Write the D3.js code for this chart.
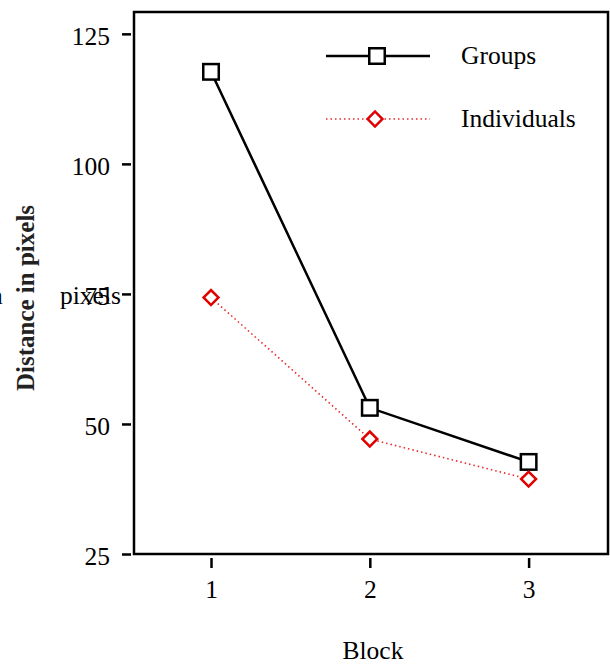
<!DOCTYPE html>
<html>
  <head>
    <meta charset="utf-8">
    <script src="https://d3js.org/d3.v7.min.js"></script>
    <style>
      body { margin: 0; background: #fff; }
      text { font-family: "Liberation Serif", "DejaVu Serif", serif; }
    </style>
  </head>
  <body>
    <div id="my_dataviz"></div>
  </body>

  <script>
    // data
    const blocks = [1, 2, 3]
    const groups = [117.7, 53.1, 42.7]
    const individuals = [74.3, 47.1, 39.4]
    const yTicks = [25, 50, 75, 100, 125]
    const seriesNames = ["Groups", "Individuals"]

    const W = 610, H = 664
    const frame = {left: 134, right: 608, top: 12, bottom: 554}
    const fs = "25.5px"

    const svg = d3.select("#my_dataviz")
      .append("svg")
        .attr("width", W)
        .attr("height", H)

    const x = d3.scaleLinear()
      .domain([0.515, 3.5])
      .range([frame.left, frame.right])

    const y = d3.scaleLinear()
      .domain([25, 129.2])
      .range([frame.bottom, frame.top])

    // frame
    svg.append("rect")
      .attr("x", frame.left)
      .attr("y", frame.top)
      .attr("width", frame.right - frame.left)
      .attr("height", frame.bottom - frame.top)
      .attr("fill", "none")
      .attr("stroke", "black")
      .attr("stroke-width", 2.5)

    // y axis (ticks sit off the frame a bit)
    const yAxis = svg.append("g")
      .attr("transform", `translate(${frame.left - 3},0)`)
      .call(d3.axisLeft(y).tickValues(yTicks).tickSize(9).tickPadding(12))
    yAxis.select(".domain").remove()
    yAxis.selectAll("line").attr("stroke-width", 2.5)
    yAxis.selectAll("text")
      .attr("font-size", fs)
      .attr("fill", "black")
      .attr("dy", "0.43em")

    // x axis
    const xAxis = svg.append("g")
      .attr("transform", `translate(0,${frame.bottom + 4})`)
      .call(d3.axisBottom(x).tickValues(blocks).tickSize(10).tickPadding(12).tickFormat(d3.format("d")))
    xAxis.select(".domain").remove()
    xAxis.selectAll("line").attr("stroke-width", 2.5)
    xAxis.selectAll("text")
      .attr("font-size", fs)
      .attr("fill", "black")

    // axis titles
    svg.append("text")
      .attr("x", (frame.left + frame.right) / 2 + 2)
      .attr("y", 659)
      .attr("text-anchor", "middle")
      .attr("font-size", fs)
      .text("Block")

    svg.append("text")
      .attr("transform", `translate(34,298) rotate(-90)`)
      .attr("text-anchor", "middle")
      .attr("font-size", "25px")
      .attr("font-weight", "bold")
      .attr("fill", "#222")
      .text("Distance in pixels")

    // stray leftover of the label seen in the source image
    svg.append("text")
      .attr("x", -10).attr("y", 304)
      .attr("font-size", fs)
      .text("n")
    svg.append("text")
      .attr("x", 60).attr("y", 304)
      .attr("font-size", fs)
      .text("pixels")

    const line = d3.line()
      .x((d, i) => x(blocks[i]))
      .y(d => y(d))

    // groups: solid black with squares
    svg.append("path")
      .datum(groups)
      .attr("d", line)
      .attr("fill", "none")
      .attr("stroke", "black")
      .attr("stroke-width", 2.5)

    // individuals: dotted red with diamonds
    svg.append("path")
      .datum(individuals)
      .attr("d", line)
      .attr("fill", "none")
      .attr("stroke", "#e8282a")
      .attr("stroke-width", 1.6)
      .attr("stroke-dasharray", "1.5,3")

    const sq = 15.5, dm = 10.5
    function square(g, cx, cy) {
      g.append("rect")
        .attr("x", cx - sq / 2).attr("y", cy - sq / 2)
        .attr("width", sq).attr("height", sq)
        .attr("fill", "white")
        .attr("stroke", "black")
        .attr("stroke-width", 2.5)
    }
    function diamond(g, cx, cy) {
      g.append("rect")
        .attr("x", -dm / 2).attr("y", -dm / 2)
        .attr("width", dm).attr("height", dm)
        .attr("transform", `translate(${cx},${cy}) rotate(45)`)
        .attr("fill", "white")
        .attr("stroke", "#e00000")
        .attr("stroke-width", 2.5)
    }

    const marks = svg.append("g")
    groups.forEach((v, i) => square(marks, x(blocks[i]), y(v)))
    individuals.forEach((v, i) => diamond(marks, x(blocks[i]), y(v)))

    // legend
    const legend = svg.append("g")
    const legY = [56, 119]
    legend.append("line")
      .attr("x1", 326).attr("x2", 430).attr("y1", legY[0]).attr("y2", legY[0])
      .attr("stroke", "black").attr("stroke-width", 2.5)
    square(legend, 377, legY[0])
    legend.append("line")
      .attr("x1", 326).attr("x2", 430).attr("y1", legY[1]).attr("y2", legY[1])
      .attr("stroke", "#e8282a").attr("stroke-width", 1.6)
      .attr("stroke-dasharray", "1.5,3")
    diamond(legend, 375, legY[1])
    seriesNames.forEach((name, i) => {
      legend.append("text")
        .attr("x", 461)
        .attr("y", legY[i] + 8)
        .attr("font-size", fs)
        .text(name)
    })
  </script>
</html>
